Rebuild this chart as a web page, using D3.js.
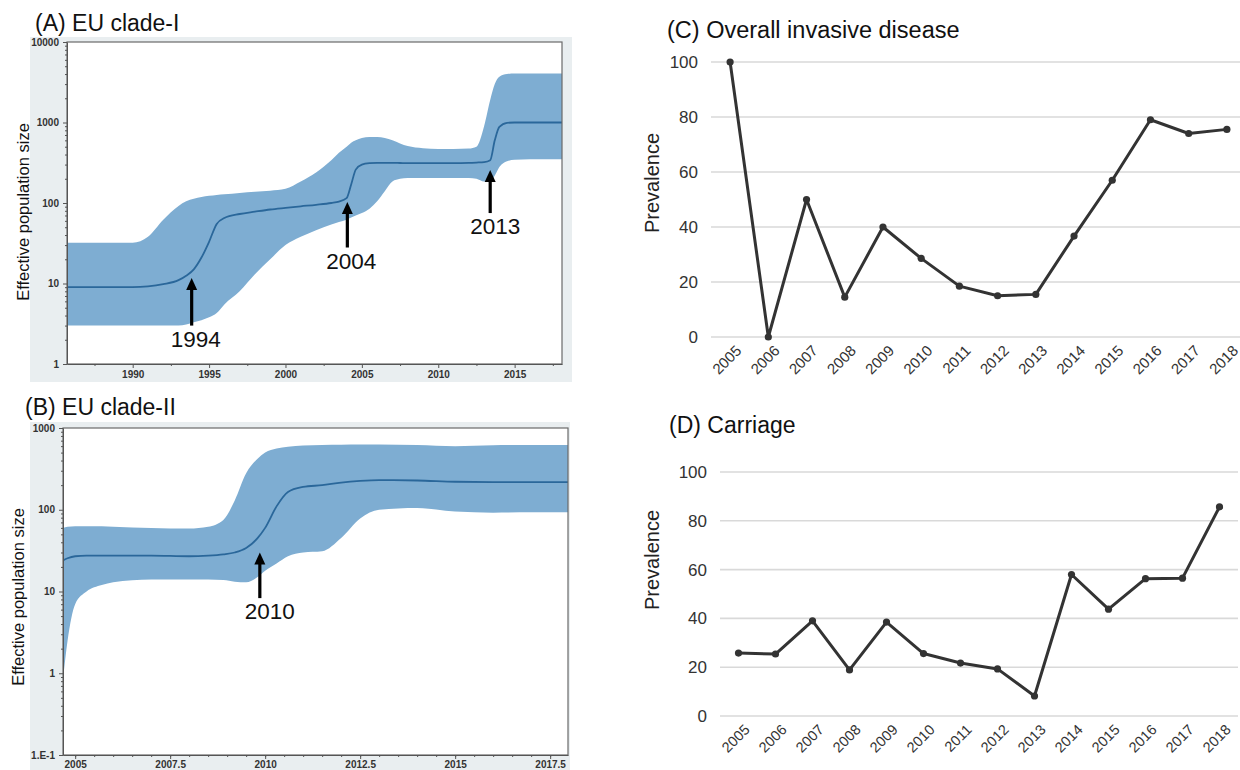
<!DOCTYPE html>
<html><head><meta charset="utf-8">
<script src="https://cdn.jsdelivr.net/npm/d3@7"></script>
<style>
body{margin:0;background:#fff;}
svg{display:block;font-family:"Liberation Sans",Arial,Helvetica,sans-serif;}
</style></head>
<body>
<svg id="chart" width="1240" height="770"></svg>
<script>
// ---------- Panel A : EU clade-I (skyline) ----------
const yearsA  = [1985.7,1988,1990,1991,1992,1993,1993.5,1994,1994.5,1995,1995.5,1996,1997,1998,1999,2000,2001,2002,2003,2003.5,2004,2004.3,2004.6,2005,2005.5,2006,2006.5,2007,2007.5,2008,2009,2010,2011,2012,2012.5,2013,2013.4,2013.7,2014,2014.5,2015,2016,2017,2018.1];
const medianA = [9,9,9,9.2,9.8,11,12.5,15,21,33,55,65,73,78,83,87,91,95,100,104,115,170,260,300,312,315,315,315,314,313,312,312,313,315,318,322,340,600,880,990,1000,1000,1000,1000];
const upperA  = [32,32,32,38,62,92,105,113,119,123,126,128,133,138,142,150,185,240,340,420,500,560,600,640,660,660,640,600,550,510,480,470,470,475,500,900,1900,3000,3700,4000,4050,4050,4050,4050];
const lowerA  = [3,3,3,3,3,3,3.1,3.3,3.5,3.8,4.3,5.5,8,13,20,30,38,46,54,58,62,66,70,75,85,105,140,185,200,205,205,205,205,205,200,185,185,220,280,330,345,350,350,350];
const yTicksA = [1,10,100,1000,10000];
const yTickLabelsA = ["1","10","100","1000","10000"];
const xTicksA = [1990,1995,2000,2005,2010,2015];
const annotA  = [{label:"1994",year:1993.86,tip:11.7,tail:3.0},{label:"2004",year:2004.05,tip:103,tail:28},{label:"2013",year:2013.4,tip:257,tail:75}];

// ---------- Panel B : EU clade-II (skyline) ----------
const yearsB  = [2004.68,2004.8,2005,2005.3,2005.7,2006,2007,2008,2008.5,2008.9,2009.2,2009.5,2009.8,2010,2010.3,2010.6,2011,2011.5,2012,2012.5,2013,2014,2015,2016,2017,2017.97];
const medianB = [24,25.5,27,27.5,27.5,27.5,27.5,27,27.5,28.5,30,34,45,60,110,165,190,200,215,225,230,228,220,218,218,218];
const upperB  = [60,62,63,63,63,62,60,59,62,75,130,280,420,500,560,590,610,620,625,630,630,620,600,615,620,620];
const lowerB  = [0.85,2.5,7,10,12,13,14,14,14,13.8,13.2,13,15,18,22,27,30,31,45,78,100,105,95,92,93,93];
const yTicksB = [0.1,1,10,100,1000];
const yTickLabelsB = ["1.E-1","1","10","100","1000"];
const xTicksB = [2005,2007.5,2010,2012.5,2015,2017.5];
const xTickLabelsB = ["2005","2007.5","2010","2012.5","2015","2017.5"];
const annotB  = [{label:"2010",year:2009.86,tip:30,tail:8.3}];

// ---------- Panels C & D : prevalence ----------
const categories = ["2005","2006","2007","2008","2009","2010","2011","2012","2013","2014","2015","2016","2017","2018"];
const invasive = [100,0,50,14.5,40,28.6,18.5,15,15.5,36.7,57,79,74,75.5];
const carriage = [25.8,25.4,39,18.9,38.5,25.6,21.7,19.3,8.2,58,43.8,56.3,56.5,85.7];
const yTicksCD = [0,20,40,60,80,100];

const svg = d3.select("#chart");
const FILL = "#7eadd2", MED = "#2a679a", BG = "#e9eef0";

function skyline(cfg){
  const g = svg.append("g");
  g.append("rect").attr("x",cfg.bg[0]).attr("y",cfg.bg[1]).attr("width",cfg.bg[2]).attr("height",cfg.bg[3]).attr("fill",BG);
  const [L,T,R,B] = cfg.plot;
  g.append("rect").attr("x",L).attr("y",T).attr("width",R-L).attr("height",B-T).attr("fill","#fff");
  const x = d3.scaleLinear().domain(cfg.xdom).range([L,R]);
  const y = d3.scaleLog().domain(cfg.ydom).range([B,T]);
  const clipId = "clip"+cfg.id;
  g.append("clipPath").attr("id",clipId).append("rect").attr("x",L).attr("y",T).attr("width",R-L).attr("height",B-T);
  const idx = d3.range(cfg.years.length);
  const area = d3.area().x(i=>x(cfg.years[i])).y0(i=>y(cfg.lower[i])).y1(i=>y(cfg.upper[i])).curve(d3.curveMonotoneX);
  const line = d3.line().x(i=>x(cfg.years[i])).y(i=>y(cfg.median[i])).curve(d3.curveMonotoneX);
  const pg = g.append("g").attr("clip-path",`url(#${clipId})`);
  pg.append("path").datum(idx).attr("d",area).attr("fill",FILL);
  pg.append("path").datum(idx).attr("d",line).attr("fill","none").attr("stroke",MED).attr("stroke-width",1.8);
  // frame
  g.append("rect").attr("x",L).attr("y",T).attr("width",R-L).attr("height",B-T).attr("fill","none").attr("stroke","#6a6a6a").attr("stroke-width",1.2);
  // y axis
  const ya = d3.axisLeft(y).tickValues(cfg.yticks).tickFormat((d,i)=>cfg.ylabels[i]).tickSize(4).tickSizeOuter(0);
  const yag = g.append("g").attr("transform",`translate(${L},0)`).call(ya);
  const minors = [];
  const [ymin,ymax] = cfg.ydom;
  for(let p=Math.round(Math.log10(ymin)); p<Math.round(Math.log10(ymax)); p++){ for(let k=2;k<10;k++) minors.push(k*Math.pow(10,p)); }
  g.append("g").attr("transform",`translate(${L},0)`).call(d3.axisLeft(y).tickValues(minors).tickFormat("").tickSize(2).tickSizeOuter(0)).call(s=>s.select(".domain").remove()).selectAll("line").attr("stroke","#555");
  // x axis
  const xa = d3.axisBottom(x).tickValues(cfg.xticks).tickFormat((d,i)=>cfg.xlabels[i]).tickSize(4).tickSizeOuter(0);
  const xag = g.append("g").attr("transform",`translate(0,${B})`).call(xa);
  g.append("g").attr("transform",`translate(0,${B})`).call(d3.axisBottom(x).tickValues(cfg.xminor).tickFormat("").tickSize(2).tickSizeOuter(0)).call(s=>s.select(".domain").remove()).selectAll("line").attr("stroke","#555");
  [yag,xag].forEach(a=>{a.select(".domain").attr("stroke","#555"); a.selectAll(".tick line").attr("stroke","#555");
    a.selectAll("text").attr("font-size",10).attr("font-weight","bold").attr("fill","#333").attr("font-family","Liberation Sans, Arial, sans-serif");});
  yag.selectAll("text").attr("dx",-1);
  xag.selectAll("text").attr("dy",cfg.xdy);
  // titles
  g.append("text").attr("x",cfg.title[1]).attr("y",cfg.title[2]).attr("font-size",23).attr("fill","#111").text(cfg.title[0]);
  g.append("text").attr("transform",`translate(${cfg.ytitle[0]},${cfg.ytitle[1]}) rotate(-90)`).attr("text-anchor","middle").attr("font-size",16.5).attr("fill","#111").text("Effective population size");
  // annotations
  cfg.annot.forEach((a,i)=>{
    const ax = x(a.year), ty = y(a.tip), by = y(a.tail);
    g.append("line").attr("x1",ax).attr("x2",ax).attr("y1",by).attr("y2",ty+9).attr("stroke","#000").attr("stroke-width",3.2);
    g.append("path").attr("d",`M${ax},${ty} L${ax-5.5},${ty+12} L${ax+5.5},${ty+12} Z`).attr("fill","#000");
    g.append("text").attr("x",ax+cfg.adx[i]).attr("y",by+21).attr("text-anchor","middle").attr("font-size",22.5).attr("fill","#111").text(a.label);
  });
}

skyline({id:"A",bg:[30,37,542,345],plot:[67,42,562,364],xdom:[1985.7,2018.1],ydom:[1,10000],
  years:yearsA,median:medianA,upper:upperA,lower:lowerA,yticks:yTicksA,ylabels:yTickLabelsA,
  xticks:xTicksA,xlabels:xTicksA.map(String),xminor:[1987.5,1992.5,1997.5,2002.5,2007.5,2012.5,2017.5],
  title:["(A) EU clade-I",35,31],ytitle:[29,212],annot:annotA,adx:[4,4,5],xdy:"0.7em"});

skyline({id:"B",bg:[30,422,540,348],plot:[63,428,568,755],xdom:[2004.68,2017.97],ydom:[0.1,1000],
  years:yearsB,median:medianB,upper:upperB,lower:lowerB,yticks:yTicksB,ylabels:yTickLabelsB,
  xticks:xTicksB,xlabels:xTickLabelsB,xminor:d3.range(2005,2018,0.5),
  title:["(B) EU clade-II",25,415],ytitle:[24,597],annot:annotB,adx:[10],xdy:"0.55em"});

function prevalence(cfg){
  const g = svg.append("g");
  const [L,R,T,B] = cfg.plot;
  const x = d3.scalePoint().domain(categories).range([L,R]).padding(0.5);
  const y = d3.scaleLinear().domain([0,100]).range([B,T]);
  g.append("g").selectAll("line").data(yTicksCD).join("line")
    .attr("x1",L).attr("x2",R).attr("y1",d=>y(d)).attr("y2",d=>y(d)).attr("stroke","#d9d9d9").attr("stroke-width",1.6);
  const ya = g.append("g").attr("transform",`translate(${L},0)`).call(d3.axisLeft(y).tickValues(yTicksCD).tickSize(0));
  ya.select(".domain").remove();
  ya.selectAll("text").attr("font-size",17).attr("fill","#333").attr("dx",-10).attr("font-family","Liberation Sans, Arial, sans-serif");
  const xa = g.append("g").attr("transform",`translate(0,${B})`).call(d3.axisBottom(x).tickSize(0));
  xa.select(".domain").remove();
  xa.selectAll("text").attr("font-size",cfg.xfont).attr("fill","#333").attr("text-anchor","end")
    .attr("font-family","Liberation Sans, Arial, sans-serif")
    .attr("transform","translate(8,11) rotate(-45)").attr("dy","0.35em").attr("y",0);
  const line = d3.line().x((d,i)=>x(categories[i])).y(d=>y(d));
  g.append("path").datum(cfg.values).attr("d",line).attr("fill","none").attr("stroke","#333").attr("stroke-width",3).attr("stroke-linejoin","round");
  g.append("g").selectAll("circle").data(cfg.values).join("circle")
    .attr("cx",(d,i)=>x(categories[i])).attr("cy",d=>y(d)).attr("r",3.6).attr("fill","#333");
  g.append("text").attr("x",cfg.title[1]).attr("y",cfg.title[2]).attr("font-size",cfg.tfont).attr("fill","#111").text(cfg.title[0]);
  g.append("text").attr("transform",`translate(${cfg.ytitle[0]},${cfg.ytitle[1]}) rotate(-90)`).attr("text-anchor","middle").attr("font-size",20).attr("fill","#222").text("Prevalence");
}

prevalence({plot:[711,1246,62,337],values:invasive,title:["(C) Overall invasive disease",667,38],ytitle:[659,183],xfont:15,tfont:23.5});
prevalence({plot:[720,1238,472,716],values:carriage,title:["(D) Carriage",669,433],ytitle:[659,560],xfont:14.5,tfont:23});
</script>
</body></html>
